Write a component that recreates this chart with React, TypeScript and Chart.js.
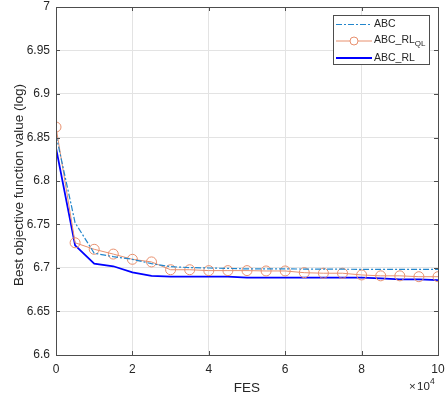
import React, { useEffect, useRef } from "react";
import { Chart, registerables } from "chart.js";

Chart.register(...registerables);

const FES = [0, 5000, 10000, 15000, 20000, 25000, 30000, 35000, 40000, 45000, 50000, 55000, 60000, 65000, 70000, 75000, 80000, 85000, 90000, 95000, 100000];
const ABC = [6.853, 6.752, 6.717, 6.713, 6.710, 6.705, 6.7015, 6.7005, 6.700, 6.6995, 6.699, 6.699, 6.699, 6.6988, 6.6987, 6.6986, 6.6985, 6.6985, 6.6985, 6.6985, 6.6985];
const ABC_RL_QL = [6.862, 6.729, 6.7215, 6.716, 6.710, 6.707, 6.698, 6.698, 6.697, 6.697, 6.697, 6.6966, 6.6966, 6.6946, 6.694, 6.694, 6.692, 6.691, 6.691, 6.690, 6.690];
const ABC_RL = [6.838, 6.726, 6.705, 6.702, 6.695, 6.691, 6.690, 6.690, 6.690, 6.690, 6.689, 6.689, 6.689, 6.689, 6.689, 6.689, 6.689, 6.688, 6.687, 6.687, 6.686];

const X_TICKS = [0, 20000, 40000, 60000, 80000, 100000];
const X_TICK_LABELS = ["0", "2", "4", "6", "8", "10"];
const Y_TICKS = [6.6, 6.65, 6.7, 6.75, 6.8, 6.85, 6.9, 6.95, 7];
const Y_TICK_LABELS = ["6.6", "6.65", "6.7", "6.75", "6.8", "6.85", "6.9", "6.95", "7"];
const X_TITLE = "FES";
const Y_TITLE = "Best objective function value (log)";
const LEGEND = ["ABC", "ABC_RL", "ABC_RL"];

const FONT = "'Liberation Sans', Arial, sans-serif";
const TEXT = "#262626";
const AXIS = "#4d4d4d";
const C_ABC = "#2286cc";
const C_QL = "#e8906e";
const C_RL = "#0000ff";

const framePlugin = {
  id: "matlabFrame",
  afterDraw(chart: any) {
    const { ctx, chartArea: a, scales } = chart;
    ctx.save();
    ctx.strokeStyle = AXIS;
    ctx.lineWidth = 1;
    ctx.strokeRect(Math.round(a.left) + 0.5, Math.round(a.top) + 0.5, Math.round(a.right - a.left), Math.round(a.bottom - a.top));
    const tl = 4;
    ctx.beginPath();
    for (const v of X_TICKS) {
      const x = Math.round(scales.x.getPixelForValue(v)) + 0.5;
      ctx.moveTo(x, a.bottom);
      ctx.lineTo(x, a.bottom - tl);
      ctx.moveTo(x, a.top);
      ctx.lineTo(x, a.top + tl);
    }
    for (const v of Y_TICKS) {
      const y = Math.round(scales.y.getPixelForValue(v)) + 0.5;
      ctx.moveTo(a.left, y);
      ctx.lineTo(a.left + tl, y);
      ctx.moveTo(a.right, y);
      ctx.lineTo(a.right - tl, y);
    }
    ctx.stroke();

    ctx.fillStyle = TEXT;
    // tick labels
    ctx.font = `12px ${FONT}`;
    ctx.textBaseline = "middle";
    ctx.textAlign = "center";
    X_TICKS.forEach((v, i) => {
      ctx.fillText(X_TICK_LABELS[i], scales.x.getPixelForValue(v), a.bottom + 15);
    });
    ctx.textAlign = "right";
    Y_TICKS.forEach((v, i) => {
      ctx.fillText(Y_TICK_LABELS[i], a.left - 6, scales.y.getPixelForValue(v));
    });

    // axis titles
    ctx.font = `13.5px ${FONT}`;
    ctx.textAlign = "center";
    ctx.fillText(X_TITLE, (a.left + a.right) / 2, 388);
    ctx.save();
    ctx.translate(19, (a.top + a.bottom) / 2 + 4);
    ctx.rotate(-Math.PI / 2);
    ctx.fillText(Y_TITLE, 0, 0);
    ctx.restore();

    // x10^4 exponent label
    ctx.textBaseline = "alphabetic";
    ctx.textAlign = "left";
    ctx.font = `11.5px ${FONT}`;
    const ex = a.right - 29;
    const ey = 390;
    ctx.fillText("\u00d7", ex, ey);
    ctx.fillText("10", ex + 8, ey);
    ctx.font = `8.5px ${FONT}`;
    ctx.fillText("4", ex + 21, ey - 6);

    // legend
    const lx = 333.5, ly = 15.5, lw = 96, lh = 49;
    ctx.fillStyle = "#ffffff";
    ctx.fillRect(lx, ly, lw, lh);
    ctx.strokeStyle = AXIS;
    ctx.lineWidth = 1;
    ctx.strokeRect(lx, ly, lw, lh);
    const rows = [24.5, 41, 58];
    const x1 = 336, x2 = 372, tx = 374;
    ctx.strokeStyle = C_ABC;
    ctx.lineWidth = 1.2;
    ctx.setLineDash([6, 2, 2, 2]);
    ctx.beginPath();
    ctx.moveTo(x1, rows[0]);
    ctx.lineTo(x2, rows[0]);
    ctx.stroke();
    ctx.setLineDash([]);
    ctx.strokeStyle = C_QL;
    ctx.lineWidth = 1;
    ctx.beginPath();
    ctx.moveTo(x1, rows[1]);
    ctx.lineTo(x2, rows[1]);
    ctx.stroke();
    ctx.fillStyle = "#ffffff";
    ctx.beginPath();
    ctx.arc((x1 + x2) / 2, rows[1], 4, 0, Math.PI * 2);
    ctx.fill();
    ctx.stroke();
    ctx.strokeStyle = C_RL;
    ctx.lineWidth = 1.8;
    ctx.beginPath();
    ctx.moveTo(x1, rows[2]);
    ctx.lineTo(x2, rows[2]);
    ctx.stroke();

    ctx.fillStyle = TEXT;
    ctx.textBaseline = "middle";
    ctx.font = `10.5px ${FONT}`;
    ctx.fillText(LEGEND[0], tx, rows[0]);
    ctx.fillText(LEGEND[1], tx, rows[1] - 1);
    const w = ctx.measureText(LEGEND[1]).width;
    ctx.font = `8px ${FONT}`;
    ctx.fillText("QL", tx + w, rows[1] + 3);
    ctx.font = `10.5px ${FONT}`;
    ctx.fillText(LEGEND[2], tx, rows[2]);
    ctx.restore();
  },
};

export default function App() {
  const ref = useRef<HTMLCanvasElement | null>(null);
  useEffect(() => {
    if (!ref.current) return;
    const chart = new Chart(ref.current, {
      type: "line",
      data: {
        datasets: [
          {
            label: "ABC",
            data: FES.map((x, i) => ({ x, y: ABC[i] })),
            borderColor: C_ABC,
            borderWidth: 1.2,
            borderDash: [6, 2, 2, 2],
            pointRadius: 0,
            fill: false,
          },
          {
            label: "ABC_RL_QL",
            data: FES.map((x, i) => ({ x, y: ABC_RL_QL[i] })),
            borderColor: C_QL,
            borderWidth: 1,
            pointRadius: 5,
            pointBorderWidth: 1,
            pointBorderColor: C_QL,
            pointBackgroundColor: "rgba(255,255,255,0)",
            fill: false,
          },
          {
            label: "ABC_RL",
            data: FES.map((x, i) => ({ x, y: ABC_RL[i] })),
            borderColor: C_RL,
            borderWidth: 1.8,
            pointRadius: 0,
            fill: false,
          },
        ],
      },
      options: {
        animation: false,
        responsive: true,
        maintainAspectRatio: false,
        layout: { padding: { top: 7, right: 8, left: 0, bottom: 0 } },
        plugins: { legend: { display: false }, tooltip: { enabled: false } },
        elements: { line: { tension: 0 } },
        scales: {
          x: {
            type: "linear",
            min: 0,
            max: 100000,
            afterBuildTicks: (s: any) => {
              s.ticks = X_TICKS.map((v) => ({ value: v }));
            },
            afterFit: (s: any) => {
              s.height = 45;
            },
            ticks: { display: false },
            grid: { color: "#e3e3e3", drawTicks: false },
            border: { display: false },
          },
          y: {
            type: "linear",
            min: 6.6,
            max: 7,
            afterBuildTicks: (s: any) => {
              s.ticks = Y_TICKS.map((v) => ({ value: v }));
            },
            afterFit: (s: any) => {
              s.width = 56;
            },
            ticks: { display: false },
            grid: { color: "#e3e3e3", drawTicks: false },
            border: { display: false },
          },
        },
      },
      plugins: [framePlugin],
    });
    return () => chart.destroy();
  }, []);
  return (
    <div style={{ position: "absolute", left: 0, top: 0, width: 446, height: 400 }}>
      <canvas ref={ref} />
    </div>
  );
}
